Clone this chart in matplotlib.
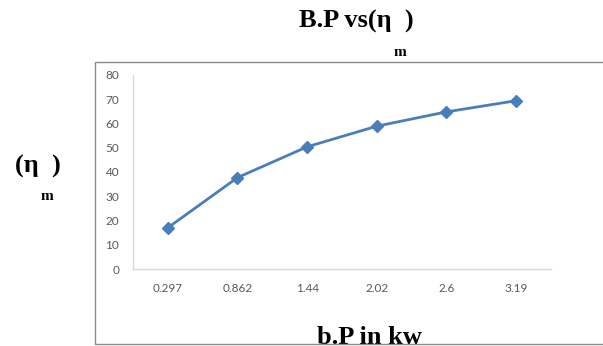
import matplotlib.pyplot as plt
from matplotlib.patches import Rectangle

# ----- data -----
bp_labels = ["0.297", "0.862", "1.44", "2.02", "2.6", "3.19"]
eta_m = [17.0, 37.7, 50.4, 58.9, 64.8, 69.4]
y_ticks = [0, 10, 20, 30, 40, 50, 60, 70, 80]

W, H = 603, 346
fig = plt.figure(figsize=(W / 100, H / 100), dpi=100)
fig.patch.set_facecolor("white")

# chart frame (right edge runs off the picture)
fig.patches.append(Rectangle((95 / W, 1 - 343.5 / H), 1.0, (343.5 - 62) / H,
                             transform=fig.transFigure, fill=False,
                             edgecolor="#8c8c8c", linewidth=1.0, zorder=5))
# the x-axis title is cut off by the bottom frame line
fig.patches.append(Rectangle((0, 0), 1.0, (H - 343.5) / H,
                             transform=fig.transFigure, facecolor="white",
                             edgecolor="none", zorder=4))

ax = fig.add_axes([133 / W, 1 - 269 / H, (551 - 133) / W, (269 - 75) / H])
x = list(range(len(bp_labels)))
ax.plot(x, eta_m, color="#4A7EBB", linewidth=2, marker="D", markersize=6,
        markerfacecolor="#4A7EBB", markeredgecolor="#4A7EBB")

ax.set_xlim(-0.5, len(bp_labels) - 0.5)
ax.set_ylim(0, 80)
ax.set_xticks(x)
ax.set_xticklabels(bp_labels)
ax.set_yticks(y_ticks)
for s in ["top", "right"]:
    ax.spines[s].set_visible(False)
for s in ["left", "bottom"]:
    ax.spines[s].set_color("#d9d9d9")
    ax.spines[s].set_linewidth(1.0)
ax.tick_params(length=0, labelsize=8.5, labelcolor="#595959", pad=10)
for lbl in ax.get_xticklabels() + ax.get_yticklabels():
    lbl.set_family("Lato")
ax.tick_params(axis="x", pad=10)

serif = dict(family="Liberation Serif", weight="bold", color="black")
fig.text(356 / W, 1 - 21 / H, "B.P vs(η  )", ha="center", va="center", fontsize=19, **serif)
fig.text(400 / W, 1 - 53 / H, "m", ha="center", va="center", fontsize=11, **serif)
fig.text(38 / W, 1 - 166 / H, "(η  )", ha="center", va="center", fontsize=19, **serif)
fig.text(47 / W, 1 - 197 / H, "m", ha="center", va="center", fontsize=11, **serif)
fig.text(369 / W, 1 - 326 / H, "b.P in kw", ha="center", va="top", fontsize=19,
         zorder=3, **serif)

fig.savefig("out.png", dpi=100)
